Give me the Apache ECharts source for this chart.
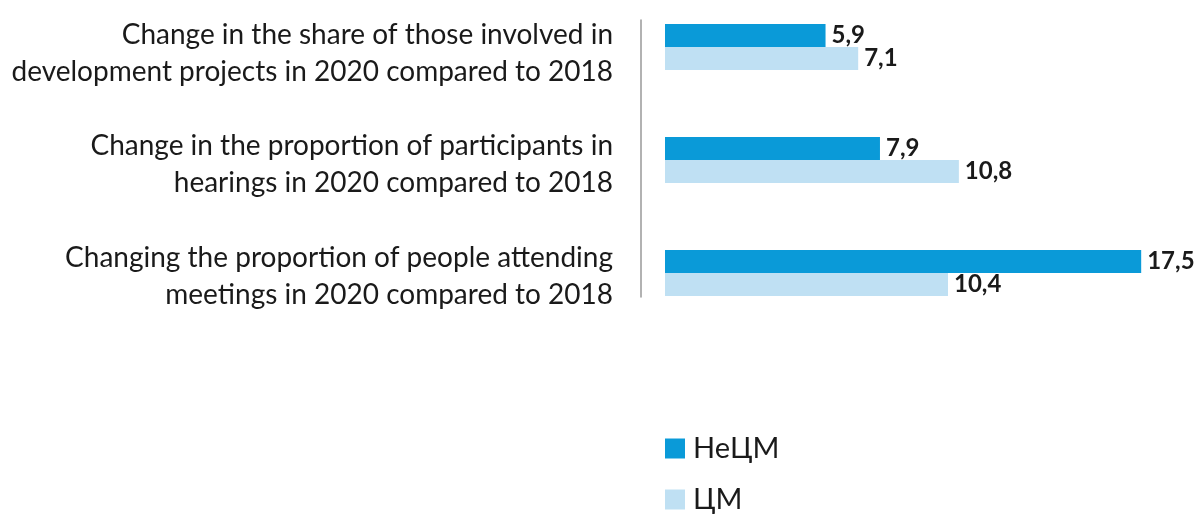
<!DOCTYPE html>
<html lang="en">
<head>
    <meta charset="UTF-8">
    <title>Change in participation 2020 vs 2018</title>
    <script type="text/javascript" src="https://cdn.jsdelivr.net/npm/echarts@6/dist/echarts.min.js"></script>
    <style>
        html, body { margin: 0; padding: 0; background: #fff; }
    </style>
</head>
<body>
<div id="bar" style="width: 1203px;height:514px;"></div>
<script>

    // categories, top to bottom
    var categories = [
        'Change in the share of those involved in\ndevelopment projects in 2020 compared to 2018',
        'Change in the proportion of participants in\nhearings in 2020 compared to 2018',
        'Changing the proportion of people attending\nmeetings in 2020 compared to 2018'
    ];
    var seriesNames = ['НеЦМ', 'ЦМ'];
    var neCmValues = [5.9, 7.9, 17.5];
    var cmValues = [7.1, 10.8, 10.4];

    var labelStyle = {
        show: true,
        position: 'right',
        distance: 6,
        fontFamily: 'Lato',
        fontWeight: 'bold',
        fontSize: 24,
        color: '#1a1a1a',
        formatter: function (p) {
            return String(p.value.toFixed(1)).replace('.', ',');
        }
    };

    var option = {
        animation: false,
        backgroundColor: '#fff',
        legend: {
            orient: 'vertical',
            left: 665,
            top: 434,
            padding: 0,
            itemWidth: 20,
            itemHeight: 20,
            itemGap: 22,
            icon: 'rect',
            textStyle: {
                fontFamily: 'Lato',
                fontSize: 29,
                lineHeight: 28,
                color: '#1a1a1a',
                padding: [0, 0, 0, 3]
            },
            data: seriesNames
        },
        grid: [{
            // bars
            left: 665,
            right: 21,
            top: -9.5,
            height: 339,
            outerBoundsMode: 'none'
        }, {
            // separator line beside the labels
            left: 641,
            width: 1,
            top: 20,
            height: 277,
            outerBoundsMode: 'none'
        }, {
            // category labels, spaced slightly apart from the bars
            left: 641,
            width: 1,
            top: -2.75,
            height: 334.5,
            outerBoundsMode: 'none'
        }],
        xAxis: [{
            type: 'value',
            min: 0,
            max: 19,
            show: false
        }, {
            type: 'value',
            gridIndex: 1,
            show: false
        }, {
            type: 'value',
            gridIndex: 2,
            show: false
        }],
        yAxis: [{
            type: 'category',
            inverse: true,
            data: categories,
            axisLine: { show: false },
            axisTick: { show: false },
            axisLabel: { show: false }
        }, {
            type: 'category',
            gridIndex: 1,
            data: categories,
            axisLine: { show: true, lineStyle: { color: '#999', width: 1.5 } },
            axisTick: { show: false },
            axisLabel: { show: false }
        }, {
            type: 'category',
            gridIndex: 2,
            inverse: true,
            data: categories,
            axisLine: { show: false },
            axisTick: { show: false },
            axisLabel: {
                margin: 28,
                fontFamily: 'Lato',
                fontSize: 28,
                lineHeight: 37,
                color: '#1a1a1a',
                align: 'right'
            }
        }],
        series: [{
            name: seriesNames[0],
            type: 'bar',
            barWidth: 23,
            barGap: '0%',
            itemStyle: { color: '#0a9ad8' },
            label: labelStyle,
            data: neCmValues
        }, {
            name: seriesNames[1],
            type: 'bar',
            barWidth: 23,
            barGap: '0%',
            itemStyle: { color: '#bfe0f3' },
            label: labelStyle,
            data: cmValues
        }]
    };

    var myChart = echarts.init(document.getElementById('bar'));
    myChart.setOption(option);

</script>
</body>
</html>
